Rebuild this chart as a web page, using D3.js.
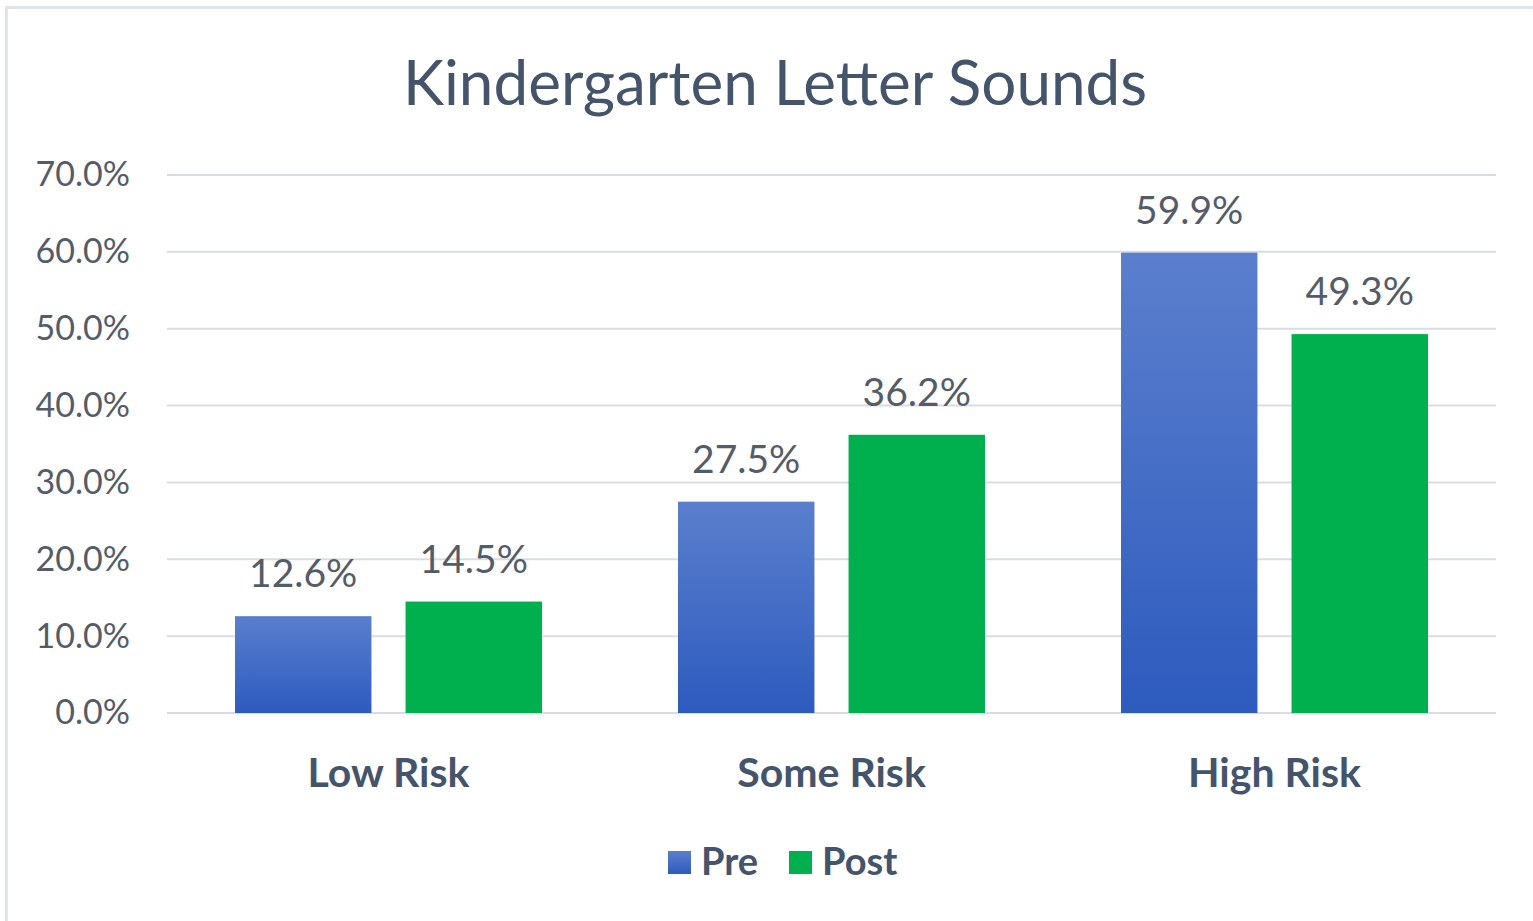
<!DOCTYPE html>
<html>
<head>
<meta charset="utf-8">
<script src="https://cdn.jsdelivr.net/npm/d3@7"></script>
<style>
  body { margin: 0; background: #fff; }
  text { font-family: Lato, "Open Sans", sans-serif; }
</style>
</head>
<body>
<div id="chart"></div>
<script>
var categories = ["Low Risk", "Some Risk", "High Risk"];
var seriesNames = ["Pre", "Post"];
var preValues = [12.6, 27.5, 59.9];
var postValues = [14.5, 36.2, 49.3];
var yTicks = [0, 10, 20, 30, 40, 50, 60, 70];

function drawChart() {
    var W = 1533, H = 921;
    var margin = {top: 175, right: 37, bottom: 208, left: 167};
    var width = W - margin.left - margin.right,
        height = H - margin.top - margin.bottom;

    var svg = d3.select("#chart").append("svg")
        .attr("width", W)
        .attr("height", H);

    // outer frame (only left and top visible)
    svg.append("path")
        .attr("d", "M6.5,921 L6.5,7.5 L1533,7.5")
        .attr("fill", "none")
        .attr("stroke", "#dfe3ea")
        .attr("stroke-width", 3);

    var defs = svg.append("defs");
    var grad = defs.append("linearGradient")
        .attr("id", "preGrad")
        .attr("x1", 0).attr("y1", 0).attr("x2", 0).attr("y2", 1);
    grad.append("stop").attr("offset", "0%").attr("stop-color", "#5b7fcd");
    grad.append("stop").attr("offset", "100%").attr("stop-color", "#2d5bbe");

    var g = svg.append("g")
        .attr("transform", "translate(" + margin.left + "," + margin.top + ")");

    var y = d3.scaleLinear().domain([0, 70]).range([height, 0]);
    var x0 = d3.scaleBand().domain(categories).range([0, width]).padding(0);
    var x1 = d3.scaleBand().domain(seriesNames).range([68, x0.bandwidth() - 68]).paddingInner(0.2);

    // gridlines
    g.append("g").selectAll("line")
        .data(yTicks).enter()
        .append("line")
        .attr("x1", 0).attr("x2", width)
        .attr("y1", function(d) { return y(d); })
        .attr("y2", function(d) { return y(d); })
        .attr("stroke", "#d9dde3")
        .attr("stroke-width", 2);

    // y axis labels
    var yAxis = g.append("g")
        .call(d3.axisLeft(y).tickValues(yTicks).tickSize(0).tickPadding(37)
            .tickFormat(function(d) { return d.toFixed(1) + "%"; }));
    yAxis.select(".domain").remove();
    yAxis.selectAll("text")
        .attr("font-family", "Lato, sans-serif")
        .attr("font-size", 34)
        .attr("fill", "#545c68");

    var data = categories.map(function(c, i) {
        return {cat: c, vals: [
            {s: "Pre", v: preValues[i]},
            {s: "Post", v: postValues[i]}
        ]};
    });

    var groups = g.selectAll(".grp")
        .data(data).enter()
        .append("g")
        .attr("transform", function(d) { return "translate(" + x0(d.cat) + ",0)"; });

    groups.selectAll("rect")
        .data(function(d) { return d.vals; }).enter()
        .append("rect")
        .attr("x", function(d) { return x1(d.s); })
        .attr("width", x1.bandwidth())
        .attr("y", function(d) { return y(d.v); })
        .attr("height", function(d) { return height - y(d.v); })
        .attr("fill", function(d) { return d.s === "Pre" ? "url(#preGrad)" : "#00b04f"; });

    groups.selectAll(".lbl")
        .data(function(d) { return d.vals; }).enter()
        .append("text")
        .attr("class", "lbl")
        .attr("x", function(d) { return x1(d.s) + x1.bandwidth() / 2; })
        .attr("y", function(d) { return y(d.v) - 29; })
        .attr("text-anchor", "middle")
        .attr("font-size", 39)
        .attr("fill", "#545c68")
        .text(function(d) { return d.v.toFixed(1) + "%"; });

    // x axis category labels
    var xAxis = g.append("g")
        .attr("transform", "translate(0," + height + ")")
        .call(d3.axisBottom(x0).tickSize(0).tickPadding(45));
    xAxis.select(".domain").remove();
    xAxis.selectAll("text")
        .attr("font-family", "Lato, sans-serif")
        .attr("font-size", 41)
        .attr("font-weight", "bold")
        .attr("fill", "#44546a");

    // title
    svg.append("text")
        .attr("x", 775)
        .attr("y", 105)
        .attr("text-anchor", "middle")
        .attr("font-size", 62)
        .attr("fill", "#44546a")
        .text("Kindergarten Letter Sounds");

    // legend
    var legendX = [668, 789];
    var legend = svg.append("g").selectAll(".leg")
        .data(seriesNames).enter()
        .append("g")
        .attr("transform", function(d, i) { return "translate(" + legendX[i] + ",851)"; });
    legend.append("rect")
        .attr("width", 23).attr("height", 23)
        .attr("fill", function(d) { return d === "Pre" ? "url(#preGrad)" : "#00b04f"; });
    legend.append("text")
        .attr("x", 33).attr("y", 24)
        .attr("font-size", 38)
        .attr("font-weight", "bold")
        .attr("fill", "#44546a")
        .text(function(d) { return d; });
}

drawChart();
</script>
</body>
</html>
